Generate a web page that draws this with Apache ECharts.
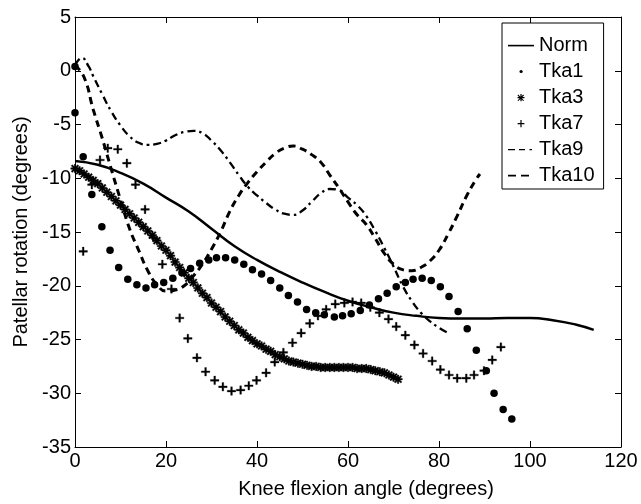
<!DOCTYPE html>
<html>
<head>
<meta charset="utf-8">
<script src="https://cdn.jsdelivr.net/npm/echarts@6/dist/echarts.min.js"></script>
<style>
  html, body { margin: 0; padding: 0; background: #fff; }
  #chart { width: 641px; height: 504px; }
</style>
</head>
<body>
<div id="chart"></div>
<script>
// knee flexion angle (deg) vs patellar rotation (deg)
const normX = [0, 5, 10, 15, 20, 25, 30, 35, 40, 45, 50, 55, 60, 65, 70, 75, 80, 85, 90, 95, 100, 105, 110, 114];
const normY = [-8.4, -8.75, -9.5, -10.5, -11.8, -13.1, -14.7, -16.3, -17.6, -18.7, -19.7, -20.6, -21.4, -22.0, -22.5, -22.8, -23.0, -23.05, -23.05, -23.0, -23.0, -23.2, -23.6, -24.1];

const tka1X = [0, 0, 1.8, 3.7, 5.9, 7.7, 9.6, 11.6, 13.6, 15.6, 17.5, 19.5, 21.5, 23.5, 25.4, 27.4, 29.4, 31.1, 33.1, 35.1, 37.1, 39, 41, 43, 45, 46.9, 48.9, 50.9, 52.9, 54.8, 57, 58.8, 60.7, 62.7, 64.7, 66.7, 68.6, 70.6, 72.6, 74.3, 76.3, 78.3, 80.3, 82.2, 84.2, 86.2, 88.2, 90.4, 92.1, 94.1, 96];
const tka1Y = [0.4, -3.9, -8.0, -11.5, -14.5, -16.7, -18.3, -19.4, -19.9, -20.2, -19.9, -19.7, -19.3, -18.8, -18.4, -17.9, -17.6, -17.4, -17.4, -17.6, -18.0, -18.5, -18.9, -19.5, -20.2, -20.9, -21.5, -22.2, -22.5, -22.7, -22.9, -22.8, -22.6, -22.3, -21.8, -21.2, -20.7, -20.1, -19.7, -19.4, -19.3, -19.5, -20.1, -21.0, -22.4, -24.0, -26.0, -27.9, -30.0, -31.5, -32.4];

const tka3X = [0, 1, 2, 3, 4, 5, 6, 7, 8, 9, 10, 11, 12, 13, 14, 15, 16, 17, 18, 19, 20, 21, 22, 23, 24, 25, 26, 27, 28, 29, 30, 31, 32, 33, 34, 35, 36, 37, 38, 39, 40, 41, 42, 43, 44, 45, 46, 47, 48, 49, 50, 51, 52, 53, 54, 55, 56, 57, 58, 59, 60, 61, 62, 63, 64, 65, 66, 67, 68, 69, 70, 71];
const tka3Y = [-9.1, -9.3, -9.6, -9.9, -10.2, -10.5, -10.9, -11.3, -11.7, -12.1, -12.5, -12.9, -13.3, -13.7, -14.1, -14.5, -14.9, -15.3, -15.8, -16.3, -16.7, -17.2, -17.8, -18.3, -18.8, -19.3, -19.7, -20.2, -20.7, -21.1, -21.6, -22.0, -22.4, -22.9, -23.3, -23.7, -24.1, -24.4, -24.8, -25.1, -25.4, -25.6, -25.9, -26.1, -26.4, -26.6, -26.8, -27.0, -27.1, -27.2, -27.3, -27.4, -27.5, -27.5, -27.6, -27.6, -27.6, -27.6, -27.6, -27.6, -27.6, -27.6, -27.7, -27.7, -27.7, -27.8, -27.9, -28.0, -28.1, -28.3, -28.5, -28.7];

const tka7X = [1.8, 3.7, 5.5, 7.2, 9.4, 11.4, 13.3, 15.4, 17.2, 19.2, 21.2, 23, 24.8, 26.8, 28.7, 30.7, 32.5, 34.4, 36.4, 38.2, 39.9, 42, 43.9, 45.8, 47.8, 49.7, 51.6, 53.4, 55.2, 57.2, 59.2, 61, 62.9, 64.9, 66.9, 68.9, 70.6, 72.6, 74.6, 76.5, 78.5, 80.3, 82.2, 84, 86, 87.7, 89.9, 91.7, 93.6];
const tka7Y = [-16.8, -10.6, -8.3, -7.2, -7.3, -8.6, -10.6, -12.9, -15.5, -18.0, -20.3, -23.0, -24.9, -26.7, -28.0, -28.8, -29.4, -29.8, -29.7, -29.3, -28.8, -28.1, -27.1, -26.2, -25.3, -24.4, -23.5, -22.8, -22.2, -21.7, -21.6, -21.5, -21.6, -22.0, -22.5, -23.1, -23.8, -24.6, -25.5, -26.3, -27.0, -27.8, -28.3, -28.6, -28.6, -28.3, -27.9, -26.9, -25.7];

const tka9X = [0, 1.5, 3, 4, 6, 8, 10, 12, 14, 16, 18, 20, 22, 24, 26, 28, 30, 32, 34, 36, 38, 40, 42, 44, 46, 48, 50, 52, 54, 56, 58, 60, 62, 64, 66, 68, 70, 72, 74, 76, 78, 80, 82];
const tka9Y = [0.5, 1.2, 0.4, -0.5, -2.2, -3.8, -5.1, -6.1, -6.7, -6.9, -6.8, -6.5, -6.0, -5.7, -5.6, -5.8, -6.5, -7.4, -8.5, -9.7, -10.8, -11.6, -12.3, -12.9, -13.3, -13.4, -13.0, -12.2, -11.4, -11.0, -11.1, -11.8, -12.5, -13.5, -14.9, -16.5, -18.2, -20.0, -21.4, -22.5, -23.3, -23.9, -24.4];

const tka10X = [0, 2, 4, 6, 8, 10, 12, 14, 16, 18, 20, 22, 24, 26, 28, 30, 32, 34, 36, 38, 40, 42, 44, 46, 48, 50, 52, 54, 56, 58, 60, 62, 64, 66, 68, 70, 72, 74, 76, 78, 80, 82, 84, 86, 88, 89];
const tka10Y = [0.5, -0.6, -3.6, -6.3, -9.2, -12.0, -14.7, -16.7, -18.6, -19.9, -20.5, -20.4, -20.0, -19.1, -18.0, -16.6, -15.0, -13.1, -11.6, -10.4, -9.4, -8.5, -7.7, -7.2, -7.0, -7.3, -7.8, -8.5, -9.7, -10.9, -12.2, -13.4, -14.3, -15.6, -17.0, -18.0, -18.5, -18.6, -18.3, -17.7, -16.7, -15.2, -13.5, -11.7, -10.2, -9.6];

const xTicks = { min: 0, max: 120, interval: 20 };
const yTicks = { min: -35, max: 5, interval: 5 };

const pairs = (xs, ys) => xs.map((x, i) => [x, ys[i]]);

const FONT = '"Liberation Sans", Arial, Helvetica, sans-serif';

// marker shapes
const plusPath = 'path://M4,0H6V10H4Z M0,4H10V6H0Z';
const starPath = 'path://M0,4.1H10V5.9H0Z M4.1,0H5.9V10H4.1Z M1.8,0.5L9.5,8.2L8.2,9.5L0.5,1.8Z M8.2,0.5L9.5,1.8L1.8,9.5L0.5,8.2Z';
// legend icons, drawn inside a 26x14 box (the leading M points fix the box)
const B = 'M0,0M26,14';
const normIcon = 'path://' + B + 'M0,6.8H26V8.4H0Z';
const dotIcon = 'path://' + B + 'M11.5,7.5A1.6,1.6 0 1,1 14.7,7.5A1.6,1.6 0 1,1 11.5,7.5Z';
const starIcon = 'path://' + B + 'M9.5,7H16.5V8.2H9.5Z M12.4,4H13.6V11.2H12.4Z M10.2,4.6L16,10.4L15.2,11.1L9.5,5.4Z M15.2,4.6L16,5.4L10.3,11.1L9.5,10.4Z';
const plusIcon = 'path://' + B + 'M12.4,4H13.6V11.2H12.4Z M9.6,7H16.4V8.2H9.6Z';
const dashDotIcon = 'path://' + B + 'M0,7H7V8.3H0Z M11,7H17V8.3H11Z M21.5,7H24V8.3H21.5Z';
const dashIcon = 'path://' + B + 'M0,6.8H8V8.4H0Z M13,6.8H21V8.4H13Z';

const axisCommon = {
    type: 'value',
    axisLine: { show: true, onZero: false, lineStyle: { color: '#000', width: 1 } },
    axisTick: { show: true, inside: true, length: 6, lineStyle: { color: '#000' } },
    splitLine: { show: false },
    axisLabel: { color: '#000', fontSize: 20, fontFamily: FONT, margin: 4 }
};

const chart = echarts.init(document.getElementById('chart'));
chart.setOption({
    animation: false,
    backgroundColor: '#fff',
    grid: { left: 75, right: 20, top: 17, bottom: 54 },
    xAxis: [
        Object.assign({}, axisCommon, xTicks, {
            position: 'bottom',
            name: 'Knee flexion angle (degrees)',
            nameLocation: 'middle',
            nameGap: 32,
            nameTextStyle: { color: '#000', fontSize: 20, fontFamily: FONT, padding: [0, 0, 0, 36] }
        }),
        Object.assign({}, axisCommon, xTicks, {
            position: 'top',
            axisLabel: { show: false }
        })
    ],
    yAxis: [
        Object.assign({}, axisCommon, yTicks, {
            position: 'left',
            name: 'Patellar rotation (degrees)',
            nameLocation: 'middle',
            nameGap: 40,
            nameTextStyle: { color: '#000', fontSize: 20, fontFamily: FONT }
        }),
        Object.assign({}, axisCommon, yTicks, {
            position: 'right',
            axisLabel: { show: false }
        })
    ],
    legend: {
        orient: 'vertical',
        left: 502,
        top: 23,
        padding: [12, 9, 4, 6],
        itemGap: 6,
        itemWidth: 26,
        itemHeight: 14,
        selectedMode: false,
        backgroundColor: '#fff',
        borderColor: '#000',
        borderWidth: 1,
        borderRadius: 0,
        itemStyle: { color: '#000', borderWidth: 0 },
        textStyle: { color: '#000', fontSize: 20, fontFamily: FONT },
        data: [
            { name: 'Norm', icon: normIcon },
            { name: 'Tka1', icon: dotIcon },
            { name: 'Tka3', icon: starIcon },
            { name: 'Tka7', icon: plusIcon },
            { name: 'Tka9', icon: dashDotIcon },
            { name: 'Tka10', icon: dashIcon }
        ]
    },
    series: [
        {
            name: 'Norm', type: 'line', data: pairs(normX, normY),
            smooth: true, symbol: 'none',
            lineStyle: { color: '#000', width: 2.5 }, itemStyle: { color: '#000' }
        },
        {
            name: 'Tka1', type: 'scatter', data: pairs(tka1X, tka1Y),
            symbol: 'circle', symbolSize: 7.5, itemStyle: { color: '#000', opacity: 1 }
        },
        {
            name: 'Tka3', type: 'scatter', data: pairs(tka3X, tka3Y),
            symbol: starPath, symbolSize: 8.5,
            itemStyle: { color: '#000', borderColor: '#000', borderWidth: 0.4, opacity: 1 }
        },
        {
            name: 'Tka7', type: 'scatter', data: pairs(tka7X, tka7Y),
            symbol: plusPath, symbolSize: 8.5,
            itemStyle: { color: '#000', borderColor: '#000', borderWidth: 0.3, opacity: 1 }
        },
        {
            name: 'Tka9', type: 'line', data: pairs(tka9X, tka9Y),
            smooth: true, symbol: 'none',
            lineStyle: { color: '#000', width: 2.3, type: [8, 4, 2.5, 4] }, itemStyle: { color: '#000' }
        },
        {
            name: 'Tka10', type: 'line', data: pairs(tka10X, tka10Y),
            smooth: true, symbol: 'none',
            lineStyle: { color: '#000', width: 3, type: [7, 5] }, itemStyle: { color: '#000' }
        }
    ]
});

window.addEventListener('resize', () => chart.resize());
</script>
</body>
</html>
